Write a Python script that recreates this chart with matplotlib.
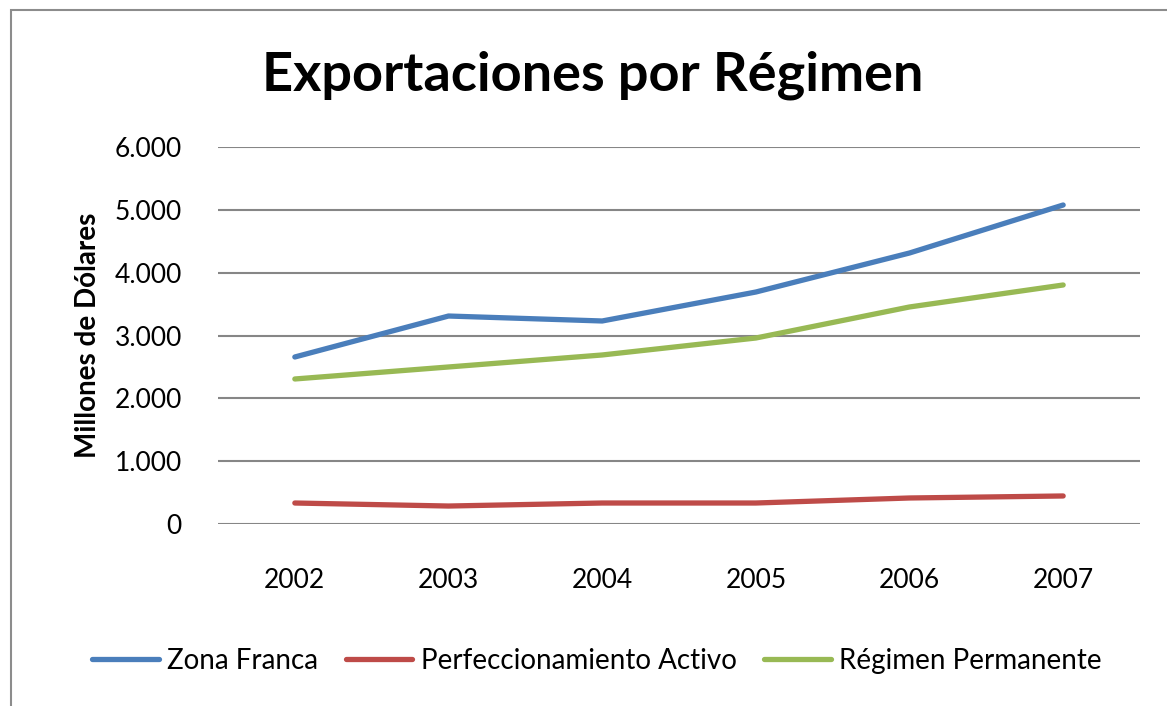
import matplotlib

matplotlib.use("Agg")
import matplotlib.pyplot as plt
from matplotlib.ticker import FuncFormatter
from matplotlib.patches import Rectangle

plt.rcParams["font.family"] = ["Lato", "DejaVu Sans"]

# Data (millones de dolares)
years = ["2002", "2003", "2004", "2005", "2006", "2007"]
zona_franca = [2658, 3310, 3231, 3692, 4313, 5077]
perfeccionamiento = [334, 286, 334, 334, 414, 446]
regimen_permanente = [2308, 2499, 2690, 2960, 3454, 3804]

series = [
    ("Zona Franca", zona_franca, "#4a7ebb"),
    ("Perfeccionamiento Activo", perfeccionamiento, "#be4b48"),
    ("Régimen Permanente", regimen_permanente, "#98b954"),
]

fig = plt.figure(figsize=(11.67, 7.06), dpi=100)

# chart border
fig.patches.append(
    Rectangle((11 / 1167, -0.1), 1.2, 1.1 - 10 / 706, transform=fig.transFigure,
              fill=False, edgecolor="#8c8c8c", linewidth=1.5)
)

ax = fig.add_axes([218 / 1167, 182 / 706, 922 / 1167, 377 / 706])

x = range(len(years))
for label, values, color in series:
    ax.plot(x, values, color=color, linewidth=3.8, label=label,
            solid_capstyle="round")

ax.set_xlim(-0.5, len(years) - 0.5)
ax.set_ylim(0, 6000)
ax.set_yticks(range(0, 6001, 1000))
ax.yaxis.set_major_formatter(
    FuncFormatter(lambda v, _: f"{int(v):,}".replace(",", "."))
)
ax.set_xticks(list(x))
ax.set_xticklabels(years)

ax.grid(axis="y", color="#868686", linewidth=1.5)
ax.set_axisbelow(True)
for side in ["top", "right", "left", "bottom"]:
    ax.spines[side].set_visible(False)
ax.tick_params(axis="both", length=0, labelsize=19, colors="black")
ax.tick_params(axis="y", pad=26)
ax.tick_params(axis="x", pad=32)

ax.set_ylabel("Millones de Dólares", fontsize=20, fontweight="bold", labelpad=10)

fig.text(593 / 1167, 1 - 75 / 706, "Exportaciones por Régimen", ha="center",
         va="center", fontsize=39, fontweight="bold")

fig.legend(loc="center", bbox_to_anchor=(597 / 1167, 1 - 661 / 706), ncol=3,
           frameon=False, fontsize=20, handlelength=2.4, handletextpad=0.3,
           columnspacing=1.0)

plt.savefig("out.png", dpi=100)
plt.close()
